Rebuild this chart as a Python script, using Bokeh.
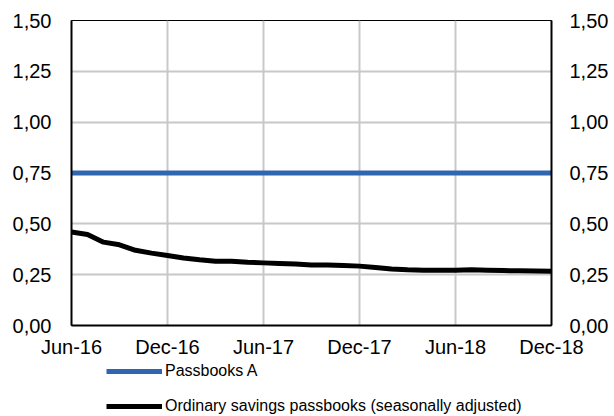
from bokeh.plotting import figure
from bokeh.layouts import column
from bokeh.models import (Range1d, LinearAxis, FixedTicker, CustomJSTickFormatter,
                          Legend, LegendItem, ColumnDataSource)
from bokeh.embed import file_html
from bokeh.resources import INLINE

months = ["Jun-16", "Jul-16", "Aug-16", "Sep-16", "Oct-16", "Nov-16", "Dec-16",
          "Jan-17", "Feb-17", "Mar-17", "Apr-17", "May-17", "Jun-17",
          "Jul-17", "Aug-17", "Sep-17", "Oct-17", "Nov-17", "Dec-17",
          "Jan-18", "Feb-18", "Mar-18", "Apr-18", "May-18", "Jun-18",
          "Jul-18", "Aug-18", "Sep-18", "Oct-18", "Nov-18", "Dec-18"]
passbooks_a = [0.75, 0.75, 0.75, 0.75, 0.75, 0.75, 0.75, 0.75, 0.75, 0.75, 0.75,
               0.75, 0.75, 0.75, 0.75, 0.75, 0.75, 0.75, 0.75, 0.75, 0.75, 0.75,
               0.75, 0.75, 0.75, 0.75, 0.75, 0.75, 0.75, 0.75, 0.75]
ordinary = [0.460, 0.448, 0.410, 0.397, 0.370, 0.356, 0.344, 0.332, 0.323, 0.316,
            0.316, 0.311, 0.308, 0.305, 0.302, 0.298, 0.297, 0.295, 0.292, 0.285,
            0.278, 0.274, 0.272, 0.272, 0.272, 0.274, 0.272, 0.270, 0.269, 0.268,
            0.267]
series_names = ["Passbooks A", "Ordinary savings passbooks (seasonally adjusted)"]
y_ticks = [0, 0.25, 0.5, 0.75, 1.0, 1.25, 1.5]
x_ticks = [0, 6, 12, 18, 24, 30]

FONT = "Liberation Sans"
BLUE = "#2f66b0"
x = list(range(len(months)))
src = ColumnDataSource(dict(x=x, a=passbooks_a, o=ordinary))

p = figure(frame_width=480, frame_height=305, output_backend="svg", toolbar_location=None,
           x_range=Range1d(0, len(months) - 1), y_range=Range1d(0, 1.5),
           min_border_left=71, min_border_right=63, min_border_top=20, min_border_bottom=36)
p.background_fill_color = "white"
p.border_fill_color = "white"
p.outline_line_color = "black"
p.outline_line_width = 1

fmt = CustomJSTickFormatter(code="return tick.toFixed(2).replace('.', ',');")

def style_axis(ax, standoff):
    ax.axis_line_color = "black"
    ax.axis_line_width = 2
    ax.major_tick_line_color = None
    ax.minor_tick_line_color = None
    ax.major_tick_out = 0
    ax.major_tick_in = 0
    ax.major_label_text_font = FONT
    ax.major_label_text_font_size = "20px"
    ax.major_label_text_color = "black"
    ax.major_label_standoff = standoff

ya = p.yaxis[0]
ya.ticker = FixedTicker(ticks=y_ticks)
ya.formatter = fmt
style_axis(ya, 20)

ra = LinearAxis(ticker=FixedTicker(ticks=y_ticks), formatter=fmt)
style_axis(ra, 18)
p.add_layout(ra, "right")

xa = p.xaxis[0]
xa.ticker = FixedTicker(ticks=x_ticks)
xa.major_label_overrides = {i: months[i] for i in x_ticks}
style_axis(xa, 10)

p.xgrid.ticker = FixedTicker(ticks=x_ticks)
p.ygrid.ticker = FixedTicker(ticks=y_ticks)
for g in (p.xgrid[0], p.ygrid[0]):
    g.grid_line_color = "#c8c8c8"
    g.grid_line_width = 2

p.line("x", "a", source=src, line_color=BLUE, line_width=5)
p.line("x", "o", source=src, line_color="black", line_width=5, line_join="round")

# legend strip below the chart; its swatch renderers use the same series but the
# strip's y range lies above the data, so only the legend shows
lg = figure(width=614, height=56, output_backend="svg", toolbar_location=None,
            x_range=Range1d(0, len(months) - 1), y_range=Range1d(10, 11),
            x_axis_location=None, y_axis_location=None,
            min_border_left=0, min_border_right=0, min_border_top=0, min_border_bottom=0)
lg.grid.visible = False
lg.outline_line_color = None
lg.background_fill_color = "white"
lg.border_fill_color = "white"
sw_a = lg.line("x", "a", source=src, line_color=BLUE, line_width=5)
sw_o = lg.line("x", "o", source=src, line_color="black", line_width=5)

legend = Legend(items=[LegendItem(label=series_names[0], renderers=[sw_a]),
                       LegendItem(label=series_names[1], renderers=[sw_o])],
                location=(35, 2), orientation="vertical",
                border_line_color=None, background_fill_alpha=0,
                padding=0, margin=0, spacing=17, glyph_width=56, glyph_height=16,
                label_height=16, label_standoff=3,
                label_text_font=FONT, label_text_font_size="16px", label_text_color="black")
lg.add_layout(legend, "center")

layout = column(p, lg, spacing=0)
open("out.html", "w").write(file_html(layout, INLINE))
